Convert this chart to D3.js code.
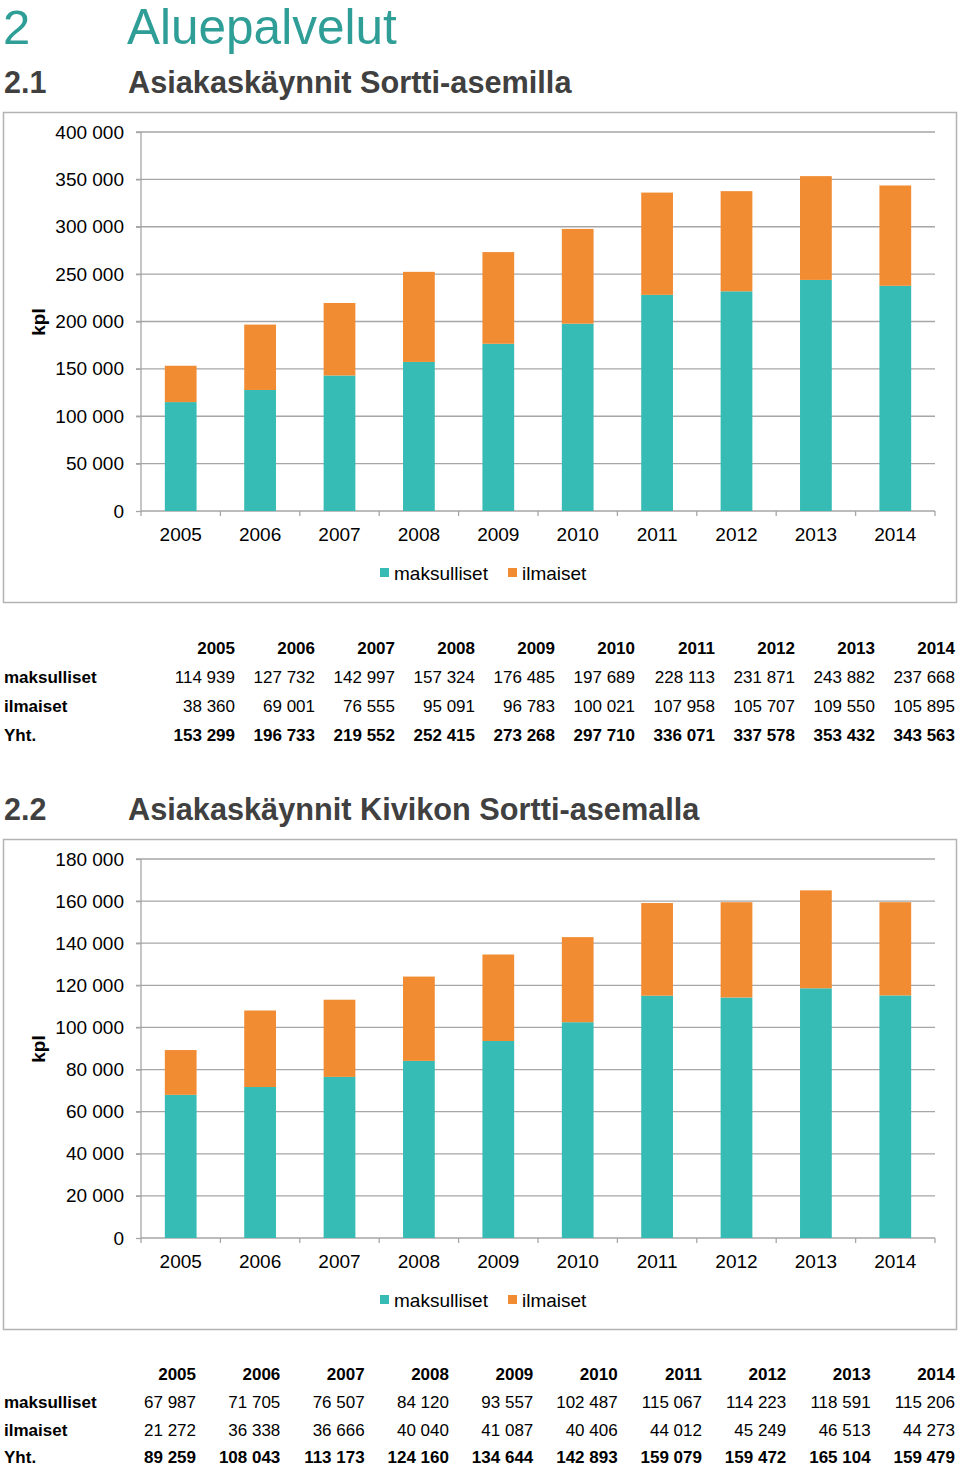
<!DOCTYPE html>
<html><head><meta charset="utf-8">
<script src="https://cdn.jsdelivr.net/npm/d3@7"></script>
<style>
body{margin:0;background:#fff;}
svg{display:block;font-family:"Liberation Sans",Arial,sans-serif;}
</style></head>
<body>
<svg id="c" width="960" height="1466"></svg>
<script>
const years = ["2005","2006","2007","2008","2009","2010","2011","2012","2013","2014"];
// 2.1 Sortti-asemat
const maksulliset1 = [114939,127732,142997,157324,176485,197689,228113,231871,243882,237668];
const ilmaiset1 = [38360,69001,76555,95091,96783,100021,107958,105707,109550,105895];
const yht1 = [153299,196733,219552,252415,273268,297710,336071,337578,353432,343563];
const ticks1 = [0,50000,100000,150000,200000,250000,300000,350000,400000];
// 2.2 Kivikko
const maksulliset2 = [67987,71705,76507,84120,93557,102487,115067,114223,118591,115206];
const ilmaiset2 = [21272,36338,36666,40040,41087,40406,44012,45249,46513,44273];
const yht2 = [89259,108043,113173,124160,134644,142893,159079,159472,165104,159479];
const ticks2 = [0,20000,40000,60000,80000,100000,120000,140000,160000,180000];
const seriesNames = ["maksulliset","ilmaiset"];
const rowLabels = ["maksulliset","ilmaiset","Yht."];

const TEAL = "#37bcb5", ORANGE = "#f28c33", GRID = "#a6a6a6", TXT = "#000";
const svg = d3.select("#c");
const fmt = v => d3.format(",")(v).replace(/,/g, " ");

// headings
svg.append("text").attr("x",3).attr("y",44).attr("font-size",49).attr("fill","#2e9e97").text("2");
svg.append("text").attr("x",127).attr("y",44).attr("font-size",49.5).attr("fill","#2e9e97").text("Aluepalvelut");
function heading(num, title, y){
  svg.append("text").attr("x",4).attr("y",y).attr("font-size",30.5).attr("font-weight","bold").attr("fill","#404040").text(num);
  svg.append("text").attr("x",128).attr("y",y).attr("font-size",30.7).attr("font-weight","bold").attr("fill","#404040").text(title);
}
heading("2.1","Asiakaskäynnit Sortti-asemilla",93);
heading("2.2","Asiakaskäynnit Kivikon Sortti-asemalla",820);

function chart(cfg){
  const g = svg.append("g");
  g.append("rect").attr("x",3.5).attr("y",cfg.frameTop+0.5).attr("width",953).attr("height",490)
    .attr("fill","none").attr("stroke","#b3b3b3").attr("stroke-width",1.5);
  const x = d3.scaleBand().domain(years).range([141,935]).paddingInner(0.6).paddingOuter(0.3);
  const y = d3.scaleLinear().domain([0, cfg.ticks[cfg.ticks.length-1]]).range([cfg.y0, cfg.yTop]);
  // gridlines
  g.append("g").selectAll("line").data(cfg.ticks.slice(1)).join("line")
    .attr("x1",136).attr("x2",935).attr("y1",d=>y(d)).attr("y2",d=>y(d))
    .attr("stroke",GRID).attr("stroke-width",1.3);
  // y axis
  const ya = g.append("g").attr("transform","translate(141,0)")
    .call(d3.axisLeft(y).tickValues(cfg.ticks).tickFormat(fmt).tickSize(5).tickPadding(12));
  ya.select(".domain").attr("stroke",GRID).attr("stroke-width",1.3).attr("d",`M0,${cfg.yTop}V${cfg.y0}`);
  ya.selectAll(".tick line").attr("stroke",GRID).attr("stroke-width",1.3);
  ya.selectAll("text").attr("font-size",19).attr("font-family","Liberation Sans, Arial, sans-serif").attr("fill",TXT);
  // x axis
  const step = x.step();
  const xa = g.append("g").attr("transform",`translate(0,${cfg.y0})`)
    .call(d3.axisBottom(x).tickSize(0).tickPadding(17));
  xa.select(".domain").attr("stroke",GRID).attr("stroke-width",1.3).attr("d","M141,0H935");
  xa.selectAll("text").attr("font-size",19).attr("font-family","Liberation Sans, Arial, sans-serif").attr("fill",TXT);
  g.append("g").selectAll("line").data(d3.range(years.length+1)).join("line")
    .attr("x1",i=>141+i*step).attr("x2",i=>141+i*step)
    .attr("y1",cfg.y0).attr("y2",cfg.y0+5).attr("stroke",GRID).attr("stroke-width",1.3);
  // bars
  const data = years.map((yr,i)=>({yr, a:cfg.m[i], b:cfg.il[i]}));
  const stack = d3.stack().keys(["a","b"])(data);
  const cols = [TEAL, ORANGE];
  g.append("g").selectAll("g").data(stack).join("g").attr("fill",(d,i)=>cols[i])
    .selectAll("rect").data(d=>d).join("rect")
    .attr("x",d=>x(d.data.yr)).attr("width",x.bandwidth())
    .attr("y",d=>y(d[1])).attr("height",d=>y(d[0])-y(d[1]));
  // y label
  g.append("text").attr("transform",`translate(45,${cfg.labelY}) rotate(-90)`)
    .attr("text-anchor","middle").attr("font-size",19).attr("font-weight","bold").attr("fill",TXT).text("kpl");
  // legend
  const lg = g.append("g").attr("transform",`translate(0,${cfg.legendY})`);
  const lx = [380, 508];
  seriesNames.forEach((n,i)=>{
    lg.append("rect").attr("x",lx[i]).attr("y",-12).attr("width",9).attr("height",9).attr("fill",cols[i]);
    lg.append("text").attr("x",lx[i]+14).attr("y",0).attr("font-size",19).attr("fill",TXT).text(n);
  });
  // table
  const t = g.append("g");
  const colR = i => cfg.tabR0 + i*cfg.tabStep;
  years.forEach((yr,i)=>{
    t.append("text").attr("x",colR(i)).attr("y",cfg.tabY[0]).attr("text-anchor","end")
      .attr("font-size",17).attr("font-weight","bold").attr("fill",TXT).text(yr);
  });
  const rows = [cfg.m, cfg.il, cfg.tot];
  rows.forEach((r,ri)=>{
    t.append("text").attr("x",4).attr("y",cfg.tabY[ri+1]).attr("font-size",17).attr("font-weight","bold").attr("fill",TXT).text(rowLabels[ri]);
    r.forEach((v,i)=>{
      t.append("text").attr("x",colR(i)).attr("y",cfg.tabY[ri+1]).attr("text-anchor","end")
        .attr("font-size",17).attr("font-weight",ri===2?"bold":"normal").attr("fill",TXT).text(fmt(v));
    });
  });
}

chart({frameTop:112, y0:511, yTop:132, ticks:ticks1, m:maksulliset1, il:ilmaiset1, tot:yht1,
  labelY:322, legendY:580, tabR0:235, tabStep:80, tabY:[654,683,712,741]});
chart({frameTop:839, y0:1238, yTop:859, ticks:ticks2, m:maksulliset2, il:ilmaiset2, tot:yht2,
  labelY:1049, legendY:1307, tabR0:196, tabStep:84.33, tabY:[1380,1408,1436,1463]});
</script>
</body></html>
